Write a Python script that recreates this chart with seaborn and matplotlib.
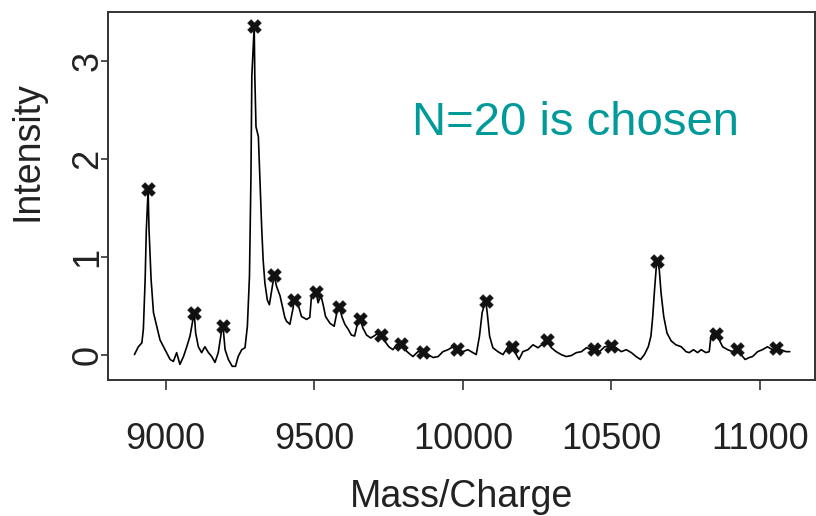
import matplotlib
matplotlib.use("Agg")
import matplotlib.pyplot as plt
import seaborn as sns
import pandas as pd

# Spectrum trace
mass = [8895, 8908, 8920, 8925, 8931, 8935, 8941, 8944, 8951, 8959, 8970, 8981, 8998,
        9015, 9026, 9037, 9048, 9060, 9071, 9082, 9096, 9101, 9110, 9121, 9132, 9144,
        9155, 9166, 9177, 9189, 9193, 9200, 9211, 9224, 9235, 9244, 9256, 9267, 9275,
        9282, 9287, 9290, 9298, 9300, 9304, 9312, 9317, 9323, 9328, 9334, 9342, 9349,
        9357, 9365, 9373, 9385, 9401, 9407, 9418, 9429, 9432, 9446, 9457, 9474, 9485,
        9491, 9506, 9513, 9522, 9530, 9538, 9553, 9567, 9578, 9584, 9594, 9603, 9614,
        9625, 9636, 9647, 9654, 9664, 9676, 9690, 9701, 9715, 9724, 9737, 9751, 9765,
        9776, 9791, 9799, 9816, 9832, 9849, 9865, 9883, 9900, 9917, 9933, 9950, 9967,
        9980, 10000, 10017, 10034, 10045, 10056, 10065, 10077, 10082, 10090, 10101,
        10118, 10135, 10152, 10164, 10174, 10189, 10202, 10219, 10236, 10253, 10265,
        10282, 10298, 10314, 10331, 10348, 10365, 10382, 10399, 10416, 10432, 10443,
        10460, 10477, 10500, 10516, 10533, 10550, 10567, 10583, 10598, 10611, 10624,
        10633, 10639, 10645, 10651, 10655, 10661, 10667, 10676, 10687, 10701, 10717,
        10735, 10751, 10762, 10776, 10790, 10802, 10818, 10829, 10835, 10846, 10853,
        10863, 10874, 10891, 10908, 10924, 10936, 10950, 10964, 10975, 10992, 11008,
        11025, 11042, 11055, 11070, 11087, 11100]
intensity = [0.00, 0.08, 0.12, 0.26, 0.77, 1.28, 1.69, 1.28, 0.77, 0.43, 0.29, 0.15, 0.05,
             -0.05, -0.07, 0.02, -0.10, -0.02, 0.08, 0.19, 0.43, 0.22, 0.08, 0.02, 0.08, 0.02,
             -0.02, -0.08, 0.02, 0.26, 0.29, 0.05, -0.05, -0.12, -0.12, -0.02, 0.05, 0.07, 0.29,
             0.80, 1.82, 2.85, 3.36, 2.85, 2.33, 2.23, 1.82, 1.31, 0.97, 0.73, 0.56, 0.51,
             0.66, 0.81, 0.70, 0.60, 0.38, 0.34, 0.31, 0.48, 0.56, 0.51, 0.39, 0.36, 0.38,
             0.61, 0.64, 0.53, 0.61, 0.51, 0.39, 0.32, 0.29, 0.46, 0.49, 0.38, 0.31, 0.26,
             0.20, 0.19, 0.34, 0.36, 0.27, 0.20, 0.17, 0.19, 0.22, 0.20, 0.14, 0.08, 0.05,
             0.10, 0.11, 0.07, 0.02, -0.02, 0.03, 0.03, 0.00, -0.03, -0.02, 0.03, 0.05, 0.08,
             0.06, 0.03, 0.05, 0.02, 0.00, 0.19, 0.43, 0.55, 0.43, 0.19, 0.07,
             0.03, 0.00, 0.08, 0.08, 0.03, -0.05, 0.03, 0.05, 0.10, 0.07, 0.10,
             0.15, 0.07, 0.03, 0.00, -0.02, -0.01, 0.02, 0.03, 0.07, 0.05, 0.06,
             0.03, 0.08, 0.09, 0.07, 0.03, 0.05, 0.02, -0.02, -0.05, 0.00, 0.08,
             0.19, 0.39, 0.66, 0.90, 0.96, 0.87, 0.63, 0.39, 0.22, 0.14, 0.10,
             0.08, 0.03, 0.02, 0.05, 0.02, 0.05, 0.02, 0.03, 0.19, 0.24, 0.21,
             0.15, 0.08, 0.05, 0.03, 0.06, 0.00, -0.05, -0.03, -0.02, 0.03, 0.05,
             0.08, 0.05, 0.07, 0.05, 0.03, 0.03]

# Detected peaks (markers)
peak_mass = [8941, 9096, 9193, 9298, 9365, 9432, 9506, 9583, 9654, 9724, 9791, 9865,
             9980, 10077, 10164, 10282, 10443, 10500, 10655, 10853, 10924, 11055]
peak_intensity = [1.69, 0.43, 0.29, 3.36, 0.81, 0.56, 0.64, 0.49, 0.36, 0.20, 0.11, 0.03,
                  0.06, 0.55, 0.08, 0.15, 0.06, 0.09, 0.96, 0.21, 0.06, 0.07]

x_ticks = [9000, 9500, 10000, 10500, 11000]
y_ticks = [0, 1, 2, 3]
annotation = "N=20 is chosen"

sns.set_style("ticks")
plt.rcParams['font.family'] = ['Liberation Sans', 'DejaVu Sans']

fig = plt.figure(figsize=(8.16, 5.16), dpi=100)
ax = fig.add_axes([108 / 816, 136 / 516, 707 / 816, 367.5 / 516])

spec = pd.DataFrame({"mass": mass, "intensity": intensity})
peaks = pd.DataFrame({"mass": peak_mass, "intensity": peak_intensity})

sns.lineplot(data=spec, x="mass", y="intensity", ax=ax, color="black", linewidth=1.2,
             sort=False)
sns.scatterplot(data=peaks, x="mass", y="intensity", ax=ax, marker="X", s=95,
                color="#111111", edgecolor="#111111", linewidth=0.5, zorder=3)

ax.set_xlim(8806, 11185)
ax.set_ylim(-0.26, 3.5)
ax.set_xticks(x_ticks)
ax.set_xticklabels([str(v) for v in x_ticks], fontsize=26, color="#222222")
ax.set_yticks(y_ticks)
ax.set_yticklabels([str(v) for v in y_ticks], fontsize=26, color="#222222",
                   rotation=90, va="center")
ax.tick_params(axis="x", length=7, width=1.2, color="#333333", pad=23)
ax.tick_params(axis="y", length=5, width=1.2, color="#333333", pad=-3)
for s in ax.spines.values():
    s.set_visible(True)
    s.set_color("#333333")
    s.set_linewidth(1.4)

ax.set_xlabel("Mass/Charge", fontsize=27, color="#222222", labelpad=16)
ax.set_ylabel("Intensity", fontsize=27, color="#222222")
ax.yaxis.set_label_coords(-0.089, 0.623)

ax.text(0.43, 0.70, annotation, transform=ax.transAxes, fontsize=34,
        color="#009a9a", ha="left", va="center")

fig.savefig("out.png", dpi=100)
